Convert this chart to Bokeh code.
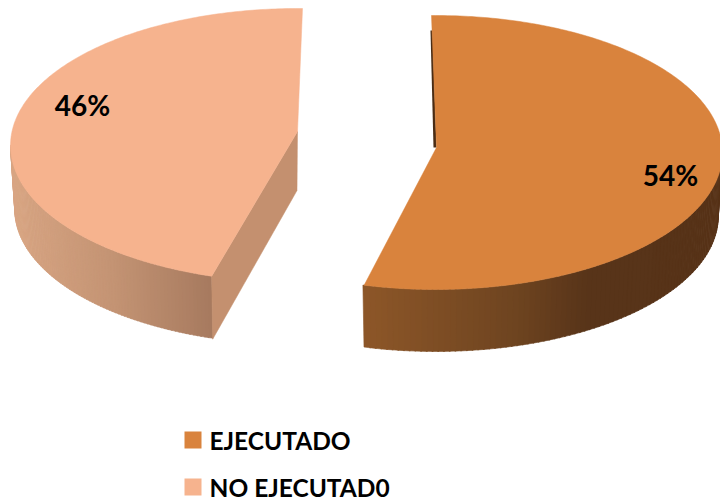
import numpy as np
from bokeh.embed import file_html
from bokeh.resources import INLINE
from bokeh.plotting import figure
from bokeh.models import Range1d
from bokeh.core.properties import value

# ---- data
categories = ["EJECUTADO", "NO EJECUTAD0"]
values = [54, 46]
pct_labels = ["54%", "46%"]
top_colors = ["#D9833D", "#F6B38E"]

# ---- layout of the exploded 3-D pie (pixel-like data space)
W, H = 720, 502
centers = [(435.0, 152.0), (297.0, 145.0)]
apexes = [(436.0, 147.0), (297.0, 131.0)]
RX, RY = 287.0, 137.0
DEPTH = 64.0
BOTTOM_SCALE = 0.985
skew = [(-0.8, 0.0), (3.0, 1.0)]          # perspective nudge of the start / end angle in degrees
side_stops = [
    [(0.0, "#8C5628"), (0.42, "#6E4420"), (0.62, "#583419"), (1.0, "#573318")],
    [(0.0, "#D8A583"), (0.5, "#C49474"), (1.0, "#A77A5F")],
]
cut_wall_color = "#C4906F"
sliver_color = "#4A2C14"
label_pos = [(670.0, 175.0), (82.0, 105.0)]
legend_square_x, legend_text_x, legend_step, legend_square = 192.5, 209.0, 47.0, 17.0
legend_y0 = 439.5

def hex2rgb(c):
    return np.array([int(c[i:i + 2], 16) for i in (1, 3, 5)], float)

def ramp(stops, f):
    xs = [s[0] for s in stops]
    cs = np.array([hex2rgb(s[1]) for s in stops])
    r = [np.interp(f, xs, cs[:, k]) for k in range(3)]
    return "#%02x%02x%02x" % tuple(int(round(v)) for v in r)

def rim(c, t, scale=1.0, dy=0.0):
    a = np.radians(t)
    return c[0] + RX * scale * np.sin(a), c[1] - RY * scale * np.cos(a) + dy

p = figure(width=W, height=H, output_backend="svg", toolbar_location=None,
           x_range=Range1d(0, W), y_range=Range1d(H, 0),
           min_border=0, outline_line_color=None)
p.axis.visible = False
p.grid.visible = False

total = float(sum(values))
starts = np.concatenate([[0.0], np.cumsum(values)[:-1]]) / total * 360.0

for i, (v, col) in enumerate(zip(values, top_colors)):
    c, apex = centers[i], apexes[i]
    t0 = starts[i] + skew[i][0]
    t1 = starts[i] + v / total * 360.0 + skew[i][1]

    # outer side wall: visible on the lower half of the rim
    a0, a1 = max(t0, 90.0), min(t1, 270.0)
    edges = np.linspace(a0, a1, 91)
    xs, ys, cols = [], [], []
    for k in range(len(edges) - 1):
        e = np.array([edges[k], edges[k + 1] + 0.25])
        xu, yu = rim(c, e)
        xl, yl = rim(c, e[::-1], BOTTOM_SCALE, DEPTH)
        xs.append(list(xu) + list(xl))
        ys.append(list(yu) + list(yl))
    xmid = [np.mean(x) for x in xs]
    lo, hi = min(xmid), max(xmid)
    for xm in xmid:
        # the ramp runs left to right across the image
        cols.append(ramp(side_stops[i], (xm - lo) / (hi - lo)))
    p.patches(xs, ys, fill_color=cols, line_color=cols, line_width=0.6)

    # straight cut walls
    if i == 1:
        ex, ey = rim(c, t0)
        p.patch([apex[0], ex, ex + 1, apex[0] - 0.5],
                [apex[1], ey, ey + DEPTH - 1, apex[1] + DEPTH - 5],
                fill_color=cut_wall_color, line_color=cut_wall_color, line_width=0.5)
    else:
        sx, sy = rim(c, t0)
        p.patch([sx - 1, sx + 1, apex[0], apex[0] - 3],
                [sy + 15, sy + 15, apex[1], apex[1]],
                fill_color=sliver_color, line_color=None)

    # top face
    ts = np.linspace(t0, t1, 241)
    rx_, ry_ = rim(c, ts)
    p.patch(list(rx_) + [apex[0]], list(ry_) + [apex[1]],
            fill_color=col, line_color=col, line_width=0.5)

# percentage labels
p.text([q[0] for q in label_pos], [q[1] - 1 for q in label_pos], text=pct_labels,
       text_font=value("Lato"), text_font_style="bold",
       text_font_size="28px", text_color="#000000", text_align="center", text_baseline="middle")

# legend
leg_y = [legend_y0 + k * legend_step for k in range(len(categories))]
p.rect([legend_square_x] * 2, leg_y, width=legend_square, height=legend_square,
       fill_color=top_colors, line_color=None)
p.text([legend_text_x] * 2, leg_y, text=categories, text_font=value("Lato"), text_font_style="bold",
       text_font_size="24.5px", text_color="#000000", text_align="left", text_baseline="middle")

open("out.html", "w").write(file_html(p, INLINE))
